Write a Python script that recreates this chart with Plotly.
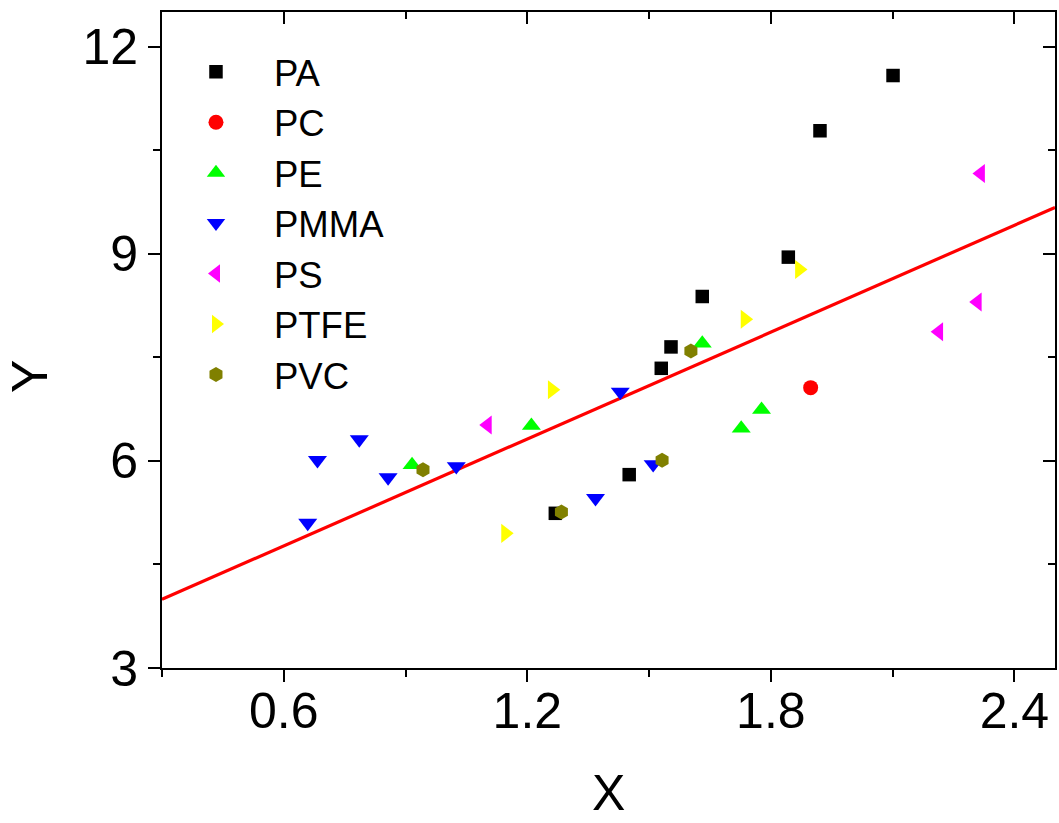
import plotly.graph_objects as go

# ---- data ----
pa_x = [1.269, 1.451, 1.530, 1.554, 1.631, 1.843, 1.921, 2.101]
pa_y = [5.24, 5.80, 7.34, 7.65, 8.38, 8.95, 10.78, 11.58]
pc_x = [1.898]
pc_y = [7.06]
pe_x = [0.916, 1.210, 1.631, 1.727, 1.777]
pe_y = [5.94, 6.51, 7.70, 6.47, 6.74]
pmma_x = [0.659, 0.683, 0.786, 0.857, 1.025, 1.368, 1.429, 1.510]
pmma_y = [5.10, 6.01, 6.31, 5.76, 5.92, 5.46, 7.00, 5.95]
ps_x = [1.102, 2.214, 2.309, 2.317]
ps_y = [6.52, 7.87, 8.30, 10.16]
ptfe_x = [1.146, 1.261, 1.736, 1.870]
ptfe_y = [4.95, 7.03, 8.05, 8.77]
pvc_x = [0.943, 1.284, 1.532, 1.603]
pvc_y = [5.87, 5.26, 6.01, 7.59]

fit_x = [0.3, 2.5]
fit_intercept = 3.22
fit_slope = 2.58

x_ticks = [0.6, 1.2, 1.8, 2.4]
y_ticks = [3, 6, 9, 12]

FONT = "Liberation Sans, Arial, sans-serif"

series = [
    ("PA", pa_x, pa_y, "square", "#000000", 13.5),
    ("PC", pc_x, pc_y, "circle", "#ff0000", 15),
    ("PE", pe_x, pe_y, "triangle-up", "#00ff00", 16.5),
    ("PMMA", pmma_x, pmma_y, "triangle-down", "#0000ff", 16.5),
    ("PS", ps_x, ps_y, "triangle-left", "#ff00ff", 16.5),
    ("PTFE", ptfe_x, ptfe_y, "triangle-right", "#ffff00", 16.5),
    ("PVC", pvc_x, pvc_y, "hexagon", "#808000", 15),
]

fig = go.Figure()

fig.add_trace(go.Scatter(
    x=fit_x, y=[fit_intercept + fit_slope * v for v in fit_x],
    mode="lines", line=dict(color="#ff0000", width=3.2), showlegend=False,
    hoverinfo="skip"))

for name, xs, ys, sym, col, sz in series:
    fig.add_trace(go.Scatter(
        x=xs, y=ys, mode="markers", name=name,
        marker=dict(symbol=sym, color=col, size=sz, line=dict(width=0))))

axis_common = dict(
    showgrid=False, zeroline=False, showline=True, linecolor="black",
    linewidth=2, ticks="outside", ticklen=12, tickwidth=2, tickcolor="black",
    tickfont=dict(family=FONT, size=50, color="black"), automargin=False,
)

mirror_common = dict(
    showgrid=False, zeroline=False, showline=True, linecolor="black",
    linewidth=2, ticks="inside", ticklen=12, tickwidth=2, tickcolor="black",
    showticklabels=False, automargin=False,
)

fig.update_layout(
    width=1059, height=823,
    margin=dict(l=162, r=4, t=12, b=155, autoexpand=False),
    paper_bgcolor="white", plot_bgcolor="white",
    font=dict(family=FONT, color="black"),
    xaxis=dict(range=[0.3, 2.5], tickvals=x_ticks, ticktext=[str(v) for v in x_ticks],
               ticklabelstandoff=-14,
               minor=dict(dtick=0.3, tick0=0.3, ticks="outside", ticklen=7,
                          tickwidth=2, tickcolor="black"),
               **axis_common),
    yaxis=dict(range=[3, 12.5], tickvals=y_ticks, ticktext=[str(v) for v in y_ticks],
               minor=dict(dtick=1.5, tick0=3, ticks="outside", ticklen=7,
                          tickwidth=2, tickcolor="black"),
               **axis_common),
    xaxis2=dict(range=[0.3, 2.5], overlaying="x", side="top", anchor="y",
                tickvals=x_ticks,
                minor=dict(dtick=0.3, tick0=0.3, ticks="inside", ticklen=7,
                           tickwidth=2, tickcolor="black"),
                **mirror_common),
    yaxis2=dict(range=[3, 12.5], overlaying="y", side="right", anchor="x",
                tickvals=y_ticks,
                minor=dict(dtick=1.5, tick0=3, ticks="inside", ticklen=7,
                           tickwidth=2, tickcolor="black"),
                **mirror_common),
    legend=dict(x=-0.0045, y=0.955, xanchor="left", yanchor="top",
                bgcolor="rgba(0,0,0,0)", borderwidth=0,
                font=dict(family=FONT, size=36.5, color="black"),
                itemwidth=106, tracegroupgap=0),
    annotations=[
        dict(text="X", xref="paper", yref="paper", x=0.5, y=-0.236,
             xanchor="center", yanchor="bottom", showarrow=False,
             font=dict(family=FONT, size=50, color="black")),
        dict(text="Y", xref="paper", yref="paper", x=-0.148, y=0.445,
             xanchor="center", yanchor="middle", showarrow=False, textangle=-90,
             font=dict(family=FONT, size=50, color="black")),
    ],
)

# invisible helper trace so the mirrored top/right axes are drawn
fig.add_trace(go.Scatter(x=[], y=[], xaxis="x2", yaxis="y2", showlegend=False))

fig.write_html("out.html", config={"displayModeBar": False},
               post_script="document.body.style.margin='0';")
